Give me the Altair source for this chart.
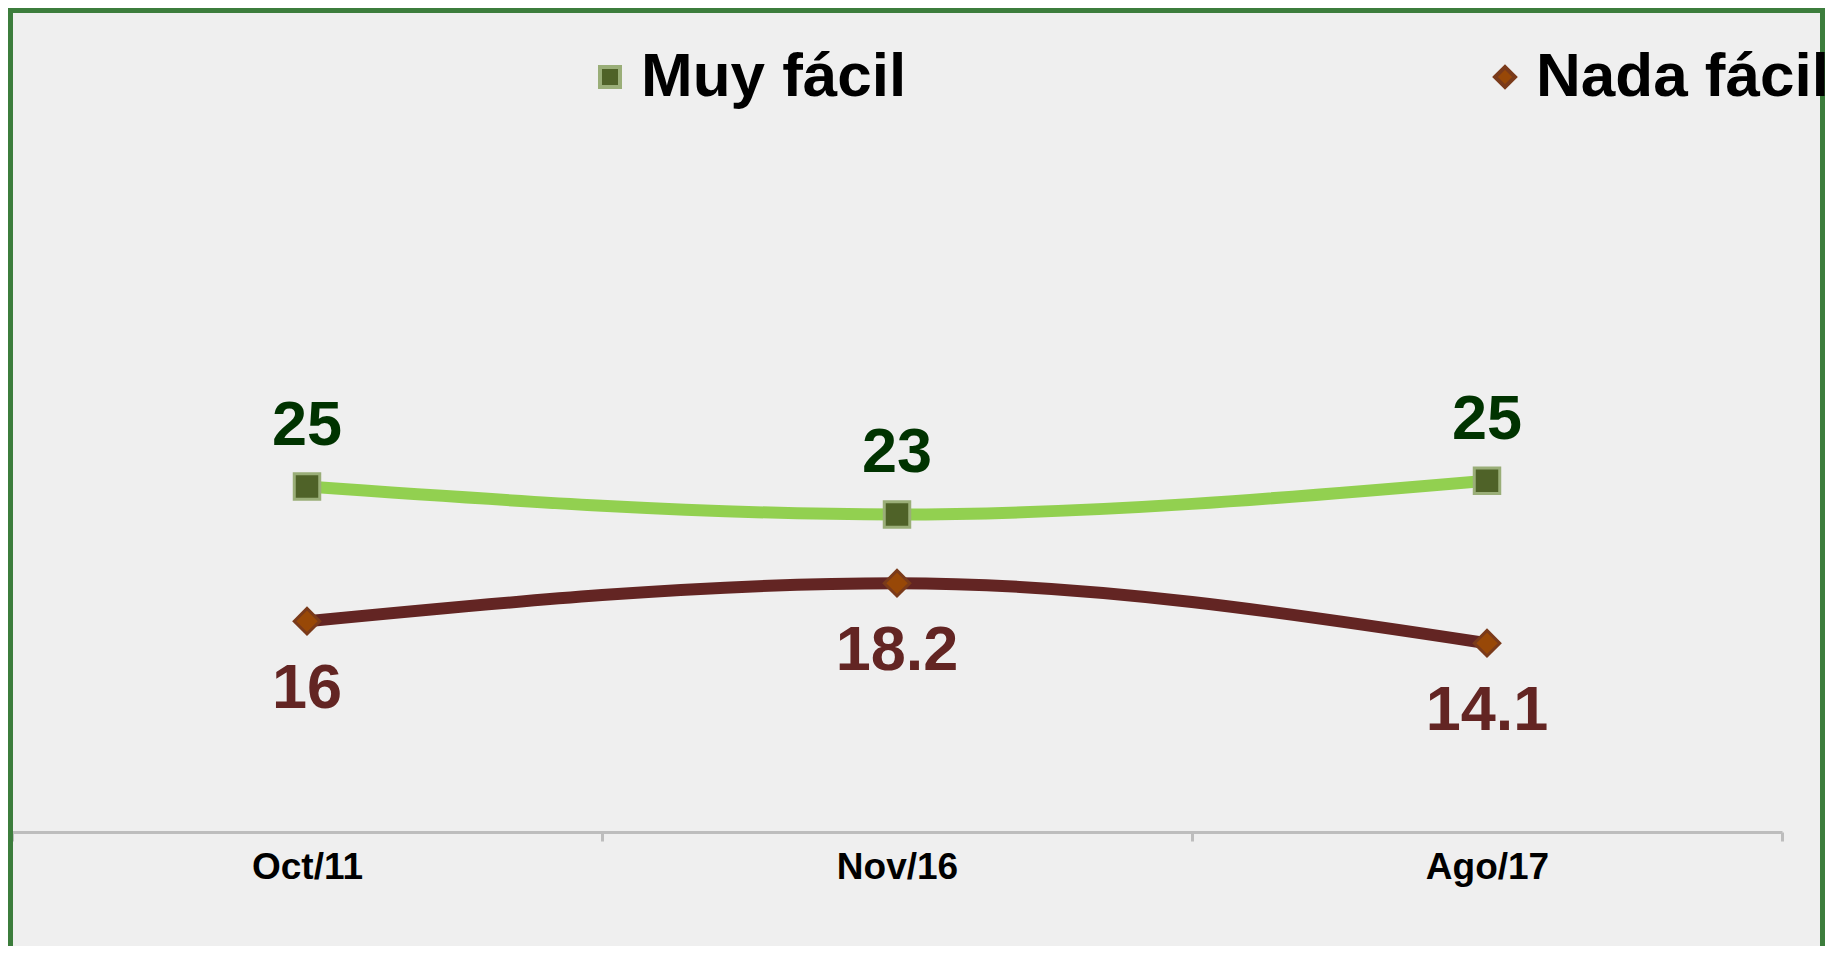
import altair as alt
import pandas as pd

# ---- data ----
categories = ["Oct/11", "Nov/16", "Ago/17"]
series_names = ["Muy fácil", "Nada fácil"]
muy_values = [24.8, 22.9, 25.2]
nada_values = [15.6, 18.2, 14.1]
muy_labels = ["25", "23", "25"]
nada_labels = ["16", "18.2", "14.1"]

rows = []
for cat, v, lab in zip(categories, muy_values, muy_labels):
    rows.append({"periodo": cat, "serie": series_names[0], "valor": v, "etiqueta": lab})
for cat, v, lab in zip(categories, nada_values, nada_labels):
    rows.append({"periodo": cat, "serie": series_names[1], "valor": v, "etiqueta": lab})
df = pd.DataFrame(rows)

W, H = 1770, 824
FONT = "Liberation Sans"

x_enc = alt.X(
    "periodo:N",
    sort=categories,
    bandPosition=0.5,
    scale=alt.Scale(type="band", paddingInner=0, paddingOuter=0),
    axis=alt.Axis(
        title=None,
        labelAngle=0,
        tickBand="extent",
        domainColor="#BDBDBD",
        domainWidth=3,
        tickColor="#BDBDBD",
        tickWidth=3,
        tickSize=9,
        labelFont=FONT,
        labelFontSize=37,
        labelFontWeight="bold",
        labelColor="#000000",
        labelPadding=8,
        grid=False,
    ),
)
y_enc = alt.Y("valor:Q", scale=alt.Scale(domain=[1.2, 57.5], nice=False, zero=False), axis=None)

leg = alt.Legend(
    title=None,
    orient="none",
    legendX=554,
    legendY=38,
    direction="horizontal",
    labelFont=FONT,
    labelFontSize=62,
    labelFontWeight="bold",
    labelColor="#000000",
    labelLimit=800,
    labelOffset=0,
    symbolOffset=13,
    columnPadding=554,
    symbolSize=400,
    symbolStrokeWidth=4,
)

base = alt.Chart(df)
muy = base.transform_filter(alt.datum.serie == series_names[0])
nada = base.transform_filter(alt.datum.serie == series_names[1])

line_muy = muy.mark_line(interpolate="monotone", strokeWidth=12, color="#92D050").encode(x=x_enc, y=y_enc)
line_nada = nada.mark_line(interpolate="monotone", strokeWidth=12, color="#632523").encode(x=x_enc, y=y_enc)

points = base.mark_point(filled=True, size=650, strokeWidth=3, opacity=1).encode(
    x=x_enc,
    y=y_enc,
    fill=alt.Fill("serie:N", scale=alt.Scale(domain=series_names, range=["#4F6228", "#984807"]), legend=leg),
    shape=alt.Shape("serie:N", scale=alt.Scale(domain=series_names, range=["square", "diamond"]), legend=leg),
    stroke=alt.Stroke("serie:N", scale=alt.Scale(domain=series_names, range=["#9AAE78", "#7A3A1A"]), legend=leg),
)

text_muy = muy.mark_text(
    font=FONT, fontSize=63, fontWeight="bold", color="#003300",
    baseline="alphabetic", align="center", dy=-42,
).encode(x=x_enc, y=y_enc, text="etiqueta:N")

text_nada = nada.mark_text(
    font=FONT, fontSize=63, fontWeight="bold", color="#632523",
    baseline="alphabetic", align="center", dy=87,
).encode(x=x_enc, y=y_enc, text="etiqueta:N")

border = alt.Chart(alt.Data(values=[{"marco": 1}])).mark_rect(
    fillOpacity=0, stroke="#3C7D3C", strokeWidth=5
).encode(
    x=alt.value(-1.5), x2=alt.value(1810.5), y=alt.value(2.5), y2=alt.value(1100)
)

chart = alt.layer(line_muy, line_nada, points, text_muy, text_nada, border).properties(
    width=W,
    height=H,
    background="#EFEFEF",
    padding={"left": 4, "top": 0, "right": 43, "bottom": 114},
    autosize=alt.AutoSizeParams(type="none"),
).configure_view(strokeWidth=0)

chart.save("out.html", embed_options={"renderer": "svg", "actions": False})
